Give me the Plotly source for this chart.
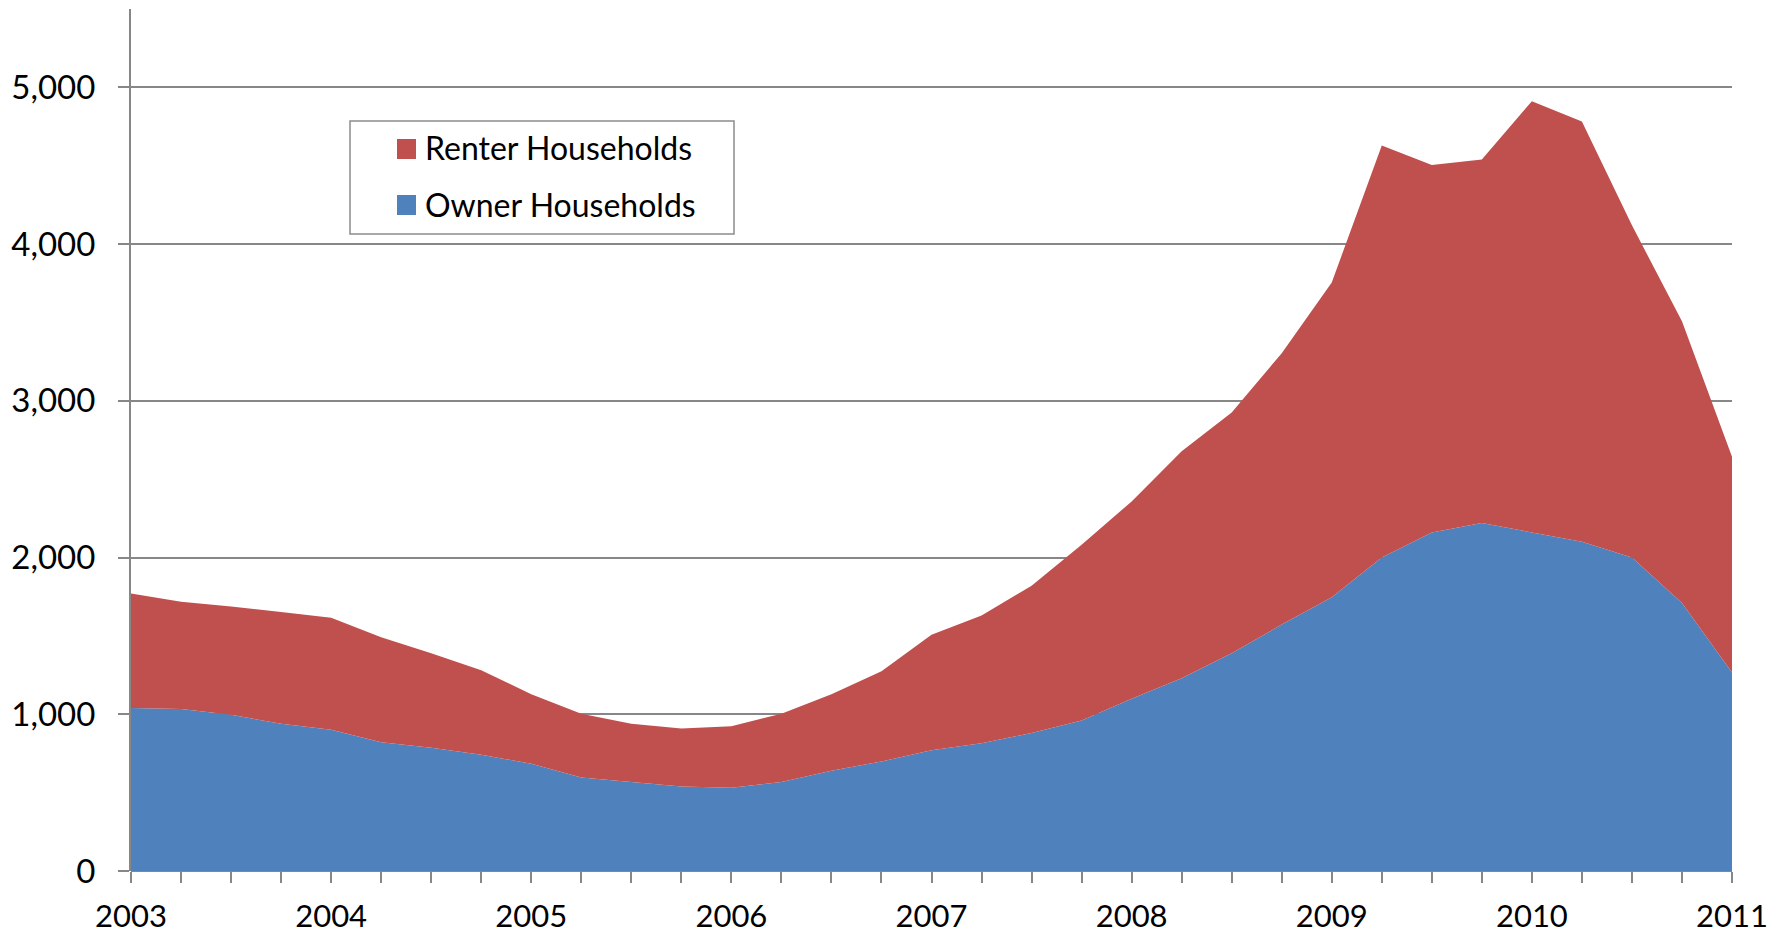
import plotly.graph_objects as go

quarters = [f"{y}Q{q}" for y in range(2003, 2011) for q in range(1, 5)] + ["2011Q1"]

owner = [1040, 1033, 997, 939, 902, 822, 786, 742,
         684, 597, 568, 539, 531, 568, 640, 699,
         771, 815, 881, 961, 1099, 1230, 1390, 1572,
         1747, 2001, 2160, 2220, 2160, 2100, 2001, 1710,
         1266]
renter = [730, 685, 691, 713, 714, 670, 604, 539,
          444, 407, 371, 371, 393, 436, 488, 575,
          736, 815, 939, 1121, 1259, 1448, 1536, 1732,
          2008, 2628, 2345, 2320, 2752, 2682, 2119, 1797,
          1377]

year_ticks = list(range(2003, 2012))
year_labels = [str(y) for y in year_ticks]
y_ticks = [0, 1000, 2000, 3000, 4000, 5000]
y_labels = ["0", "1,000", "2,000", "3,000", "4,000", "5,000"]

x = [int(q[:4]) + (int(q[-1]) - 1) / 4 for q in quarters]

RED = "#C0504D"
BLUE = "#4F81BD"
GRID = "#878787"
FONT = "Lato, Open Sans, sans-serif"

fig = go.Figure()
fig.add_trace(go.Scatter(x=x, y=owner, stackgroup="one", mode="none",
                         fillcolor=BLUE, line=dict(width=0), name="Owner Households",
                         showlegend=False, hoverinfo="x+y"))
fig.add_trace(go.Scatter(x=x, y=renter, stackgroup="one", mode="none",
                         fillcolor=RED, line=dict(width=0), name="Renter Households",
                         showlegend=False, hoverinfo="x+y"))
# legend entries (swatches drawn as shapes below)
fig.add_trace(go.Scatter(x=[None], y=[None], mode="markers", name="Renter Households",
                         marker=dict(symbol="square", size=16, color="rgba(0,0,0,0)"),
                         legendgroup="r", legendrank=1))
fig.add_trace(go.Scatter(x=[None], y=[None], mode="markers", name="Owner Households",
                         marker=dict(symbol="square", size=16, color="rgba(0,0,0,0)"),
                         legendgroup="o", legendrank=2))

OFF = 8  # page body margin
W, H = 1788 - OFF, 935 - OFF
L = 131 - OFF
R = W - (1732 - OFF)
T = 9 - OFF
B = H - (871 - OFF)
pw = W - L - R
ph = H - T - B

def px_x(p):  # p in screenshot pixels
    return (p - OFF - L) / pw

def px_y(p):
    return (H - B - (p - OFF)) / ph

def swatch(cy, color):
    return dict(type="rect", xref="paper", yref="paper",
                x0=px_x(397), x1=px_x(416), y0=px_y(cy + 10), y1=px_y(cy - 10),
                line=dict(width=0), fillcolor=color, layer="above")

fig.update_layout(
    width=W, height=H,
    margin=dict(l=L, r=R, t=T, b=B, autoexpand=False),
    paper_bgcolor="white", plot_bgcolor="white",
    font=dict(family=FONT, size=33, color="black"),
    showlegend=True,
    legend=dict(x=px_x(385), y=px_y(120), xanchor="left", yanchor="top",
                bgcolor="rgba(0,0,0,0)", borderwidth=0,
                font=dict(family=FONT, size=32, color="black"),
                tracegroupgap=13, traceorder="grouped"),
    xaxis=dict(range=[2003, 2011], tickvals=year_ticks, ticktext=year_labels,
               showgrid=False, zeroline=False, showline=False, automargin=False,
               ticks="outside", ticklen=11, tickwidth=1.5, tickcolor=GRID,
               ticklabelstandoff=7, tickfont=dict(size=31),
               minor=dict(dtick=0.25, tick0=2003, ticks="outside", ticklen=11,
                          tickwidth=1.5, tickcolor=GRID, showgrid=False),
               fixedrange=True),
    yaxis=dict(range=[0, 5500], tickvals=y_ticks, ticktext=y_labels,
               showgrid=True, gridcolor=GRID, gridwidth=2, automargin=False,
               zeroline=True, zerolinecolor=GRID, zerolinewidth=2,
               showline=True, linecolor=GRID, linewidth=2,
               ticks="outside", ticklen=11, tickwidth=1.5, tickcolor=GRID,
               ticklabelstandoff=16, fixedrange=True),
    shapes=[
        dict(type="rect", xref="paper", yref="paper",
             x0=px_x(350), x1=px_x(734), y0=px_y(234), y1=px_y(121),
             line=dict(color="#8C8C8C", width=1.5), fillcolor="rgba(0,0,0,0)",
             layer="above"),
        swatch(149, RED),
        swatch(205, BLUE),
        dict(type="line", xref="paper", yref="paper",
             x0=px_x(1785), x1=px_x(1785), y0=px_y(935), y1=px_y(0),
             line=dict(color="#A6A6A6", width=2)),
    ],
)

fig.write_html("out.html")
